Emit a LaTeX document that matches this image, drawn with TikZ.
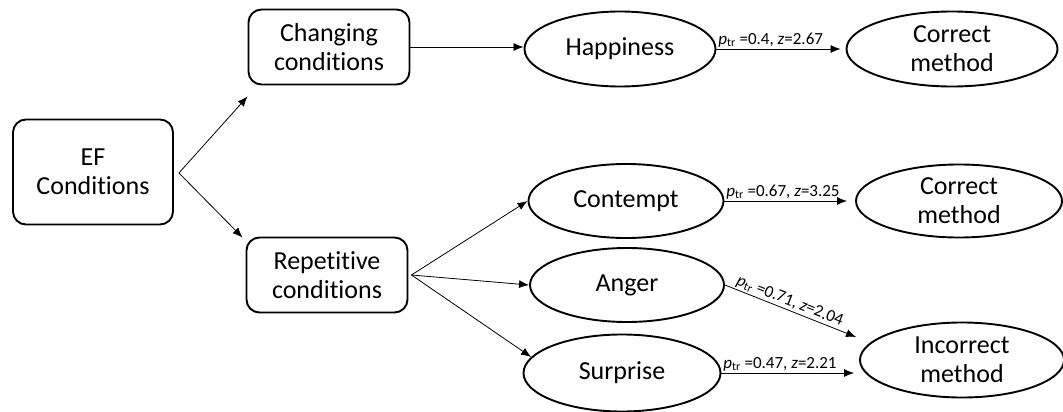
\documentclass[tikz,border=0pt]{standalone}
\usepackage{fontspec}
\setmainfont{Carlito}[Ligatures=NoCommon]
\usetikzlibrary{shapes.geometric,arrows.meta,calc}
\begin{document}
\begin{tikzpicture}[x=1pt,y=-1pt,
  box/.style={draw, rounded corners=13pt, line width=1.9pt, align=center, inner sep=0pt,
    minimum width=161pt, minimum height=75pt, font=\fontsize{26}{29}\selectfont},
  emo/.style={draw, ellipse, line width=1.9pt, align=center, inner sep=0pt,
    minimum width=194pt, minimum height=75pt, font=\fontsize{26}{29}\selectfont},
  arr/.style={-{Latex[length=10pt,width=8pt]}, line width=0.8pt},
  lab/.style={font=\fontsize{17}{19}\selectfont, inner sep=1.5pt}]
\useasboundingbox (0,0) rectangle (1063,412);
\fill[white] (0,0) rectangle (1063,412);
% nodes
\node[box, minimum width=160pt, minimum height=105pt] (ef) at (93,172) {EF\\Conditions};
\node[box] (chg) at (329,47) {Changing\\conditions};
\node[box] (rep) at (327,275) {Repetitive\\conditions};
\node[emo, minimum width=191pt] (hap) at (620,49) {Happiness};
\node[emo, minimum width=195pt, minimum height=74pt] (con) at (626,201) {Contempt};
\node[emo, minimum width=194pt, minimum height=74pt] (ang) at (627,285) {Anger};
\node[emo, minimum width=197pt, minimum height=77pt] (sur) at (622,373) {Surprise};
\node[emo, minimum width=211pt] (cor1) at (952,49) {Correct\\method};
\node[emo, minimum width=206pt, minimum height=73pt] (cor2) at (959,201) {Correct\\method};
\node[emo, minimum width=204pt, minimum height=75pt] (inc) at (962,360) {Incorrect\\method};
% connector points
\coordinate (efo) at ($(ef.east)+(5,1)$);
\coordinate (repo) at ($(rep.east)+(3,0)$);
\coordinate (chgin) at ($(chg.south west)+(0,11)$);
\coordinate (repin) at ($(rep.north west)+(-3,1)$);
\coordinate (c1in) at ($(hap.east -| cor1.west)+(-5,0)$);
\coordinate (c2in) at ($(con.east -| cor2.west)+(-8,0)$);
\coordinate (incA) at ($(inc.west)+(-3,-23)$);
\coordinate (incS) at ($(sur.east -| inc.west)+(-5,0)$);
% connectors
\draw[arr] (efo) -- (chgin);
\draw[arr] (efo) -- (repin);
\draw[arr] (chg.east) -- (chg.east -| hap.west);
\draw[arr] (repo) -- (con.west);
\draw[arr] (repo) -- (ang.west);
\draw[arr] (repo) -- (sur.170);
\draw[arr] (hap.east) -- node[lab, pos=0, anchor=south west] {\textit{p}\textsubscript{tr} =0.4, \textit{z}=2.67} (c1in);
\draw[arr] (con.east) -- node[lab, pos=0, anchor=south west] {\textit{p}\textsubscript{tr} =0.67, \textit{z}=3.25} (c2in);
\draw[arr] (ang.east) -- node[lab, pos=0.47, sloped, above] {\textit{p}\textsubscript{tr} =0.71, \textit{z}=2.04} (incA);
\draw[arr] (sur.east) -- node[lab, pos=0, anchor=south west] {\textit{p}\textsubscript{tr} =0.47, \textit{z}=2.21} (incS);
\end{tikzpicture}
\end{document}
